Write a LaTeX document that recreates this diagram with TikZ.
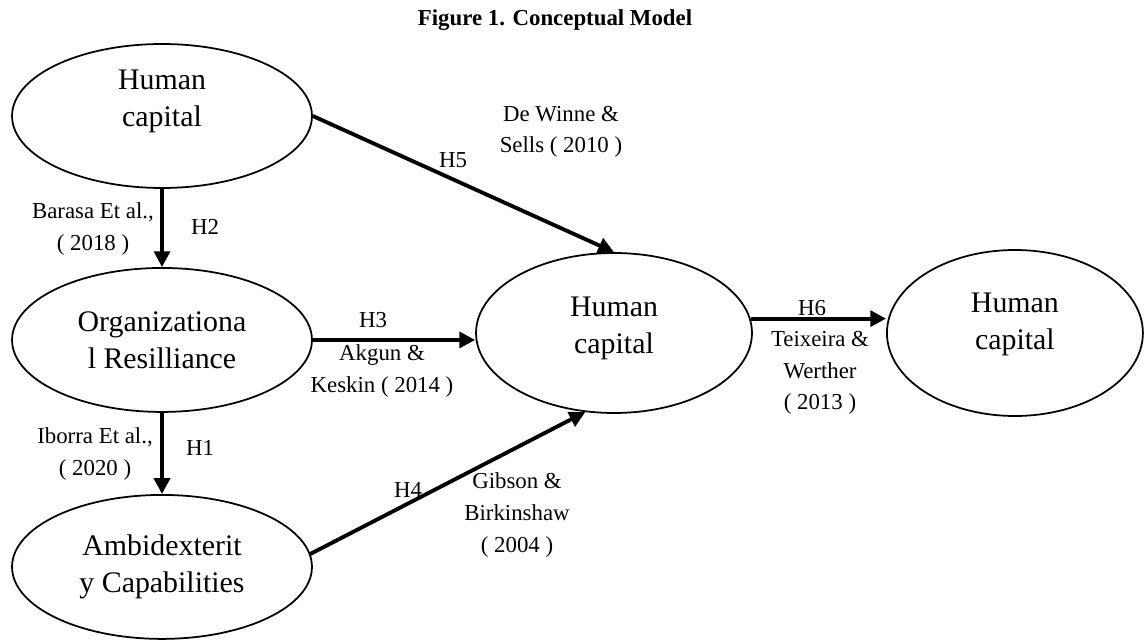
\documentclass[tikz,border=0pt]{standalone}
\usepackage{fontspec}
\setmainfont{Liberation Serif}
\usetikzlibrary{shapes.geometric,arrows.meta}

\tikzstyle{construct} = [ellipse, draw, line width=1pt, align=center, inner sep=0pt,
                         font=\fontsize{17}{21}\selectfont]
\tikzstyle{line} = [draw, -{Triangle[length=9pt,width=9pt]}, line width=2.2pt]
\tikzstyle{hyp} = [align=center, inner sep=1pt, font=\fontsize{13}{18}\selectfont]

\begin{document}
\begin{tikzpicture}[x=0.02cm, y=-0.02cm]
    \useasboundingbox (0,0) rectangle (1145,641);
    \node[font=\bfseries\fontsize{13}{16}\selectfont](Title) at (555,20)
            {Figure 1. Conceptual Model};

    \node[construct, minimum width=6cm, minimum height=2.88cm, text depth=20pt]
            (HumanCapital) at (162,116){Human\\capital};
    \node[construct, minimum width=6cm, minimum height=2.88cm,
          below of=HumanCapital, node distance=4.48cm]
            (OrgResilience){Organizationa\\l Resilliance};
    \node[construct, minimum width=6cm, minimum height=2.88cm,
          below of=OrgResilience, node distance=4.54cm]
            (Ambidexterity){Ambidexterit\\y Capabilities};
    \node[construct, minimum width=5.52cm, minimum height=3.2cm, text depth=9pt]
            (Mediator) at (614,333){Human\\capital};
    \node[construct, minimum width=5.12cm, minimum height=3.32cm, text depth=13pt,
          right of=Mediator, node distance=8.02cm]
            (Outcome){Human\\capital};

    \node[hyp](H2) at (205,227){H2};
    \node[hyp](Barasa) at (93,229){Barasa Et al.,\\( 2018 )};
    \node[hyp](H1) at (200,448){H1};
    \node[hyp](Iborra) at (95,454){Iborra Et al.,\\( 2020 )};
    \node[hyp](H5) at (453,160){H5};
    \node[hyp](DeWinne) at (561,132){De Winne \&\\Sells ( 2010 )};
    \node[hyp](H3) at (373,320){H3};
    \node[hyp](Akgun) at (382,371){Akgun \&\\Keskin ( 2014 )};
    \node[hyp](H4) at (408,490){H4};
    \node[hyp](Gibson) at (517,515){Gibson \&\\Birkinshaw\\( 2004 )};
    \node[hyp](H6) at (812,308){H6};
    \node[hyp](Teixeira) at (820,373){Teixeira \&\\Werther\\( 2013 )};

    \path[line](HumanCapital) -- (OrgResilience);
    \path[line](OrgResilience) -- (Ambidexterity);
    \path[line](HumanCapital.east) -- (Mediator.north);
    \path[line](OrgResilience.east) -- (OrgResilience.east -| Mediator.west);
    \path[line](Ambidexterity.5) -- (Mediator.250);
    \path[line](Mediator.6) -- (Mediator.6 -| Outcome.west);
\end{tikzpicture}
\end{document}
